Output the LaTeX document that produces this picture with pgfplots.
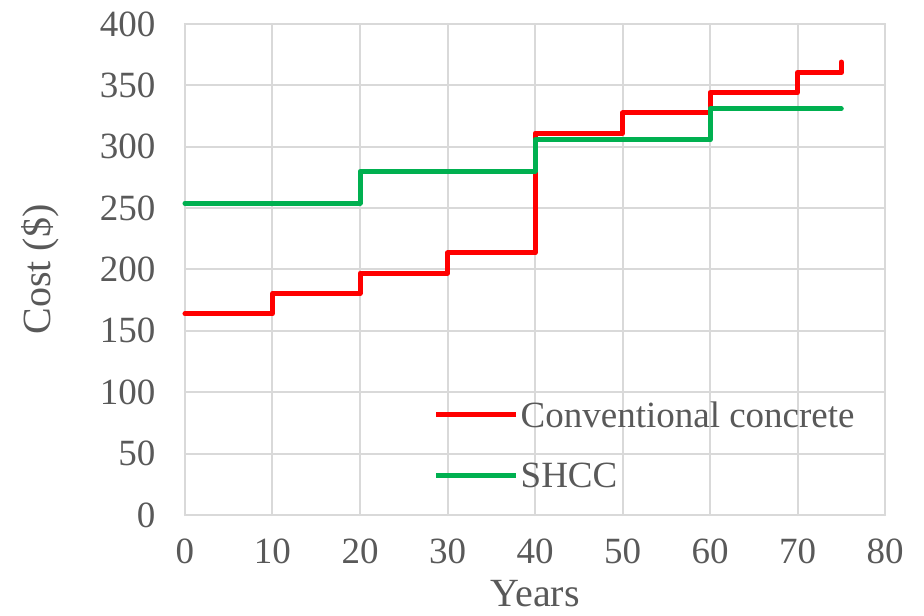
\documentclass[border=0pt]{standalone}
\usepackage{fontspec}
\setmainfont{Liberation Serif}
\usepackage{pgfplots}
\pgfplotsset{compat=1.18}
\definecolor{txtgray}{HTML}{595959}
\definecolor{gridgray}{HTML}{D9D9D9}
\definecolor{axisgray}{HTML}{BFBFBF}
\definecolor{ccred}{HTML}{FF0000}
\definecolor{shccgreen}{HTML}{00B050}
\begin{document}
\begin{tikzpicture}
\begin{axis}[
  scale only axis,
  width=700bp, height=491bp,
  xmin=0, xmax=80, ymin=0, ymax=400,
  xtick={0,10,...,80}, ytick={0,50,...,400},
  major tick length=0pt,
  grid=major,
  major grid style={gridgray, line width=2bp},
  axis line style={gridgray, line width=2bp},
  x axis line style={axisgray},
  font=\fontsize{37bp}{42bp}\selectfont,
  tick label style={txtgray},
  /pgf/number format/assume math mode=true,
  xticklabel style={yshift=-20bp},
  yticklabel style={xshift=-26bp},
  xlabel={Years}, ylabel={Cost (\$)},
  label style={txtgray, font=\fontsize{40bp}{44bp}\selectfont},
  xlabel style={yshift=-10bp},
  ylabel style={yshift=34bp},
  legend style={draw=none, fill=none, at={(0.355,0.1426)}, anchor=west,
    font=\fontsize{37bp}{42bp}\selectfont, text=txtgray,
    row sep=30bp, inner sep=0pt},
  legend cell align=left,
  legend image code/.code={\draw[#1] (0bp,0bp) -- (80bp,0bp);},
  line join=round, line cap=round,
  clip=false,
]
\addplot[ccred, line width=5bp] coordinates {
  (0,164) (10,164) (10,180.5) (20,180.5) (20,197) (30,197) (30,213.5)
  (40,213.5) (40,311) (50,311) (50,327.5) (60,327.5) (60,344) (70,344)
  (70,360.5) (75,360.5) (75,369)
};
\addlegendentry{Conventional concrete}
\addplot[shccgreen, line width=5bp] coordinates {
  (0,254) (20,254) (20,280) (40,280) (40,305.5) (60,305.5) (60,331) (75,331)
};
\addlegendentry{SHCC}
\end{axis}
\useasboundingbox (-185bp,-101bp) rectangle (739bp,515bp);
\end{tikzpicture}
\end{document}
